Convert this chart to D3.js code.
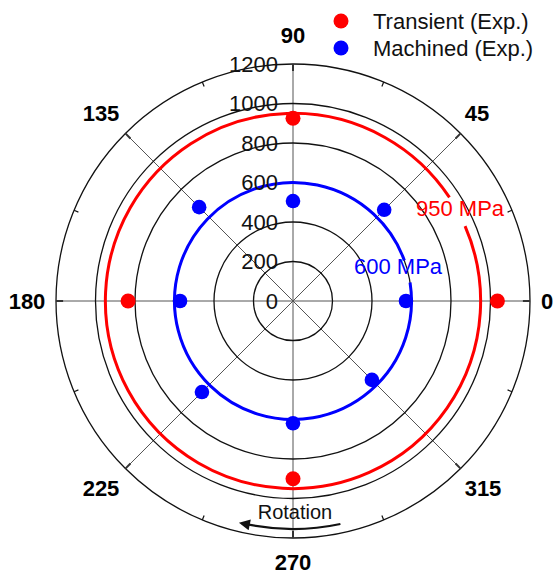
<!DOCTYPE html>
<html><head><meta charset="utf-8">
<script src="https://cdn.jsdelivr.net/npm/d3@7"></script>
<style>body{margin:0;background:#fff}svg{display:block}text{font-family:"Liberation Sans",Arial,sans-serif}</style>
</head><body><svg id="c" width="553" height="574"></svg>
<script>
const angleTicks = [0,45,90,135,180,225,270,315];
const minorAngles = [22.5,67.5,112.5,157.5,202.5,247.5,292.5,337.5];
const radialTicks = [0,200,400,600,800,1000,1200];
const transientAngles = [0,90,180,270];
const transientValues = [1035,925,835,900];
const machinedAngles = [0,45,90,135,180,225,270,315];
const machinedValues = [572,653,506,672,572,652,619,565];
const fitLabels = ["950 MPa","600 MPa"];
const fitValues = [950,600];
const legendLabels = ["Transient (Exp.)","Machined (Exp.)"];

const svg = d3.select("#c");
const cx = 293, cy = 301;
const r = d3.scaleLinear().domain([0,1200]).range([0,237]);
const rad = d => d*Math.PI/180;
const px = (a,v) => cx + r(v)*Math.cos(rad(a));
const py = (a,v) => cy - r(v)*Math.sin(rad(a));

// spokes
svg.selectAll(".spoke").data(angleTicks).join("line")
  .attr("x1",cx).attr("y1",cy)
  .attr("x2",a=>px(a,1200)).attr("y2",a=>py(a,1200))
  .attr("stroke","#555").attr("stroke-width",1);

// circles
svg.selectAll(".grid").data(radialTicks.filter(d=>d>0)).join("circle")
  .attr("cx",cx).attr("cy",cy).attr("r",d=>r(d))
  .attr("fill","none").attr("stroke","#111").attr("stroke-width",1.3);

// ticks
svg.selectAll(".mj").data(angleTicks).join("line")
  .attr("x1",a=>px(a,1200)).attr("y1",a=>py(a,1200))
  .attr("x2",a=>px(a,1200-36)).attr("y2",a=>py(a,1200-36))
  .attr("stroke","#333").attr("stroke-width",2);
svg.selectAll(".mn").data(minorAngles).join("line")
  .attr("x1",a=>px(a,1200)).attr("y1",a=>py(a,1200))
  .attr("x2",a=>px(a,1200-24)).attr("y2",a=>py(a,1200-24))
  .attr("stroke","#111").attr("stroke-width",1.2);

// fitted arcs with gaps for labels
function arcPath(v, gapStart, gapEnd){
  const p = d3.path();
  const a0 = -rad(gapEnd), a1 = -rad(gapStart + 360);
  p.arc(cx, cy, r(v), a0, a1, true);
  return p.toString();
}
svg.append("path").attr("d",arcPath(fitValues[0],23.5,33.5))
  .attr("fill","none").attr("stroke","#ff0000").attr("stroke-width",3);
svg.append("path").attr("d",arcPath(fitValues[1],9,20))
  .attr("fill","none").attr("stroke","#0000ff").attr("stroke-width",3);

svg.append("text").attr("x",416).attr("y",216).attr("fill","#ff0000")
  .attr("font-size",22).text(fitLabels[0]);
svg.append("text").attr("x",354).attr("y",274).attr("fill","#0000ff")
  .attr("font-size",22).text(fitLabels[1]);

// radial labels
svg.selectAll(".rl").data(radialTicks).join("text")
  .attr("x",278).attr("y",d=>cy-r(d)).attr("dy","0.36em")
  .attr("text-anchor","end").attr("font-size",22).attr("fill","#111")
  .text(d=>d);

// angle labels
const labelPos = {0:[547,301],45:[477,113],90:[293,35],135:[101,113],180:[27,301],225:[101,488],270:[293,562],315:[483,488]};
svg.selectAll(".al").data(angleTicks).join("text")
  .attr("x",a=>labelPos[a][0]).attr("y",a=>labelPos[a][1]).attr("dy","0.36em")
  .attr("text-anchor","middle").attr("font-size",22).attr("font-weight","bold")
  .text(a=>a);

// points
svg.selectAll(".tp").data(transientAngles).join("circle")
  .attr("cx",(a,i)=>px(a,transientValues[i])).attr("cy",(a,i)=>py(a,transientValues[i]))
  .attr("r",7.5).attr("fill","#ff0000");
svg.selectAll(".mp").data(machinedAngles).join("circle")
  .attr("cx",(a,i)=>px(a,machinedValues[i])).attr("cy",(a,i)=>py(a,machinedValues[i]))
  .attr("r",7.3).attr("fill","#0000ff");

// legend
const lc = ["#ff0000","#0000ff"];
legendLabels.forEach((t,i)=>{
  svg.append("circle").attr("cx",341).attr("cy",21+27*i).attr("r",7.5).attr("fill",lc[i]);
  svg.append("text").attr("x",373).attr("y",21+27*i).attr("dy","0.36em")
    .attr("font-size",22).attr("fill","#111").text(t);
});

// rotation arrow
svg.append("defs").append("marker").attr("id","ah").attr("viewBox","0 0 10 10")
  .attr("refX",2).attr("refY",5).attr("markerWidth",6).attr("markerHeight",5)
  .attr("orient","auto").attr("markerUnits","strokeWidth")
  .append("path").attr("d","M0,0 L10,5 L0,10 z").attr("fill","#111");
const ap = d3.path();
ap.arc(cx, cy, 228, rad(78), rad(101.5), false);
svg.append("path").attr("d",ap.toString()).attr("fill","none")
  .attr("stroke","#111").attr("stroke-width",2.2).attr("marker-end","url(#ah)");
svg.append("text").attr("x",295).attr("y",519).attr("text-anchor","middle")
  .attr("font-size",20).attr("fill","#111").text("Rotation");
</script></body></html>
